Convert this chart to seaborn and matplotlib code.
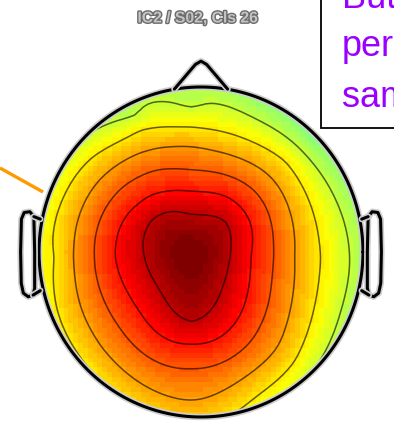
import numpy as np
import matplotlib
matplotlib.use("Agg")
import matplotlib.pyplot as plt
import matplotlib.patheffects as pe
from matplotlib.colors import LinearSegmentedColormap
from matplotlib.patches import Circle, Rectangle
import seaborn as sns

# ---------------- component scalp map data (head units: radius 1, nose up) ----------------
title = "IC2 / S02, Cls 26"
peak_xy = (-0.06, -0.03)
peak_value = 1.0
contour_levels = [0.14, 0.29, 0.43, 0.57, 0.71, 0.86]

# rays leaving the maximum (degrees, 0 = right, 90 = nose) and the distance at which
# each contour level is met, innermost level first (None: level not reached on that ray)
ray_angles = [0, 45, 90, 112.5, 135, 180, 225, 270, 315]
ray_crossings = [
    [0.24, 0.37, 0.51, 0.64, 0.80, 0.98],
    [0.30, 0.43, 0.56, 0.69, 0.82, 0.94],
    [0.26, 0.40, 0.53, 0.67, 0.79, 0.91],
    [0.30, 0.43, 0.57, 0.70, 0.83, 0.93],
    [0.33, 0.46, 0.60, 0.73, 0.86, None],
    [0.29, 0.47, 0.60, 0.73, 0.85, None],
    [0.28, 0.46, 0.62, 0.78, None, None],
    [0.39, 0.53, 0.68, 0.87, None, None],
    [0.27, 0.45, 0.60, 0.76, 0.90, None],
]

# values along the head rim (angle about the head centre)
rim_angles = [0, 22.5, 45, 67.5, 90, 112.5, 135, 157.5,
              180, 202.5, 225, 247.5, 270, 292.5, 315, 337.5]
rim_values = [0.08, 0.05, 0.00, 0.03, 0.10, 0.11, 0.145, 0.20,
              0.22, 0.25, 0.28, 0.33, 0.35, 0.23, 0.14, 0.09]

note_lines = ["But", "perhaps", "same"]

# ---------------- layout ----------------
W, H, DPI = 394, 426, 100
HEAD_CX, HEAD_CY = 201.0, 252.0      # head centre in pixels
HEAD_RX, HEAD_RY = 161.5, 164.5      # head radius in pixels
GRID = 67
HALF = GRID / 2.0


def h2c(nx, ny):
    """head units -> heatmap cell units"""
    return HALF * (1 + np.asarray(nx)), HALF * (1 - np.asarray(ny))


def green(d):
    with np.errstate(divide="ignore", invalid="ignore"):
        g = d ** 2 * (np.log(d) - 1.0)
    g[d == 0] = 0.0
    return g


def biharmonic(xs, ys, vs, xq, yq):
    d = np.hypot(xs[:, None] - xs[None, :], ys[:, None] - ys[None, :])
    w = np.linalg.solve(green(d), vs)
    dq = np.hypot(xq[..., None] - xs, yq[..., None] - ys)
    return green(dq) @ w


# sample points for the interpolation
sx, sy, sv = [peak_xy[0]], [peak_xy[1]], [peak_value]
for ang, crossings in zip(ray_angles, ray_crossings):
    a = np.deg2rad(ang)
    for lev, r in zip(contour_levels[::-1], crossings):
        if r is None:
            continue
        sx.append(peak_xy[0] + r * np.cos(a))
        sy.append(peak_xy[1] + r * np.sin(a))
        sv.append(lev)
for ang, val in zip(rim_angles, rim_values):
    a = np.deg2rad(ang)
    sx.append(np.cos(a))
    sy.append(np.sin(a))
    sv.append(val)
sx, sy, sv = np.array(sx), np.array(sy), np.array(sv)

centres = -1 + (np.arange(GRID) + 0.5) * 2 / GRID
gx, gy = np.meshgrid(centres, centres[::-1])
Z = biharmonic(sx, sy, sv, gx, gy)

jet64 = LinearSegmentedColormap.from_list(
    "jet64",
    [(0.0, (0, 0, 0.5)), (0.125, (0, 0, 1)), (0.375, (0, 1, 1)),
     (0.625, (1, 1, 0)), (0.875, (1, 0, 0)), (1.0, (0.5, 0, 0))],
    N=64,
)

sns.set_style("white")
fig = plt.figure(figsize=(W / DPI, H / DPI), dpi=DPI)
fig.patch.set_facecolor("white")
ax = fig.add_axes([0, 0, 1, 1])

sns.heatmap(Z, ax=ax, cmap=jet64, vmin=-1, vmax=1, cbar=False,
            xticklabels=False, yticklabels=False)

clip = Circle((HALF, HALF), HALF, transform=ax.transData)
ax.collections[0].set_clip_path(clip)

cc = np.arange(GRID) + 0.5
cs = ax.contour(cc, cc, Z, levels=contour_levels, colors="black",
                linewidths=1.1, alpha=0.6)
cs.set_clip_path(clip)

halo = [pe.Stroke(linewidth=4.6, foreground="#cdcdcd"), pe.Normal()]
line_kw = dict(color="black", lw=2.2, solid_capstyle="round",
               solid_joinstyle="round", path_effects=halo, zorder=5)

# head ring
t = np.linspace(0, 2 * np.pi, 400)
ax.plot(*h2c(1.003 * np.cos(t), 1.003 * np.sin(t)), **line_kw)

# nose
nose_x = [0.165, 0.035, 0.0, -0.035, -0.165]
nose_y = [0.99, 1.14, 1.16, 1.14, 0.99]
ax.plot(*h2c(nose_x, nose_y), **line_kw)

# ears
ear_loop_x = [1.035, 1.06, 1.095, 1.112, 1.117, 1.113, 1.10, 1.07, 1.04, 1.03, 1.03, 1.035]
ear_loop_y = [0.215, 0.245, 0.24, 0.20, 0.0, -0.19, -0.25, -0.272, -0.262, -0.22, 0.0, 0.215]
for side in (1, -1):
    ex = side * np.array(ear_loop_x)
    ax.plot(*h2c(ex, ear_loop_y), **line_kw)
    ax.plot(*h2c([side * 0.995, side * 1.035], [0.20, 0.215]), **line_kw)
    ax.plot(*h2c([side * 0.995, side * 1.04], [-0.235, -0.262]), **line_kw)


def px2cx(px):
    return HALF * (1 + (px - HEAD_CX) / HEAD_RX)


def py2cy(py):
    return HALF * (1 + (py - HEAD_CY) / HEAD_RY)


ax.set_xlim(px2cx(0), px2cx(W))
ax.set_ylim(py2cy(H), py2cy(0))
ax.set_axis_off()

# pixel-space overlay for title, callout and pointer
ov = fig.add_axes([0, 0, 1, 1], zorder=3)
ov.set_xlim(0, W)
ov.set_ylim(H, 0)
ov.set_axis_off()
ov.patch.set_alpha(0)

ov.text(198, 18, title, ha="center", va="center", fontsize=11.3,
        fontweight="bold", family="Liberation Sans", color="#c4c4c4",
        path_effects=[pe.Stroke(linewidth=2.0, foreground="#6c6c6c"), pe.Normal()])

ov.plot([0, 43], [168, 192], color="#FF9900", lw=2.4, solid_capstyle="butt", zorder=1)

ov.add_patch(Rectangle((321, -20), 120, 148, facecolor="white",
                       edgecolor="black", lw=1.3, zorder=2))
note_baselines = [8, 56, 107]
for line, base in zip(note_lines, note_baselines):
    ov.text(342, base, line, ha="left", va="baseline", fontsize=26,
            family="Liberation Sans", color="#9900FF", zorder=3)

fig.savefig("out.png", dpi=DPI, facecolor="white")
